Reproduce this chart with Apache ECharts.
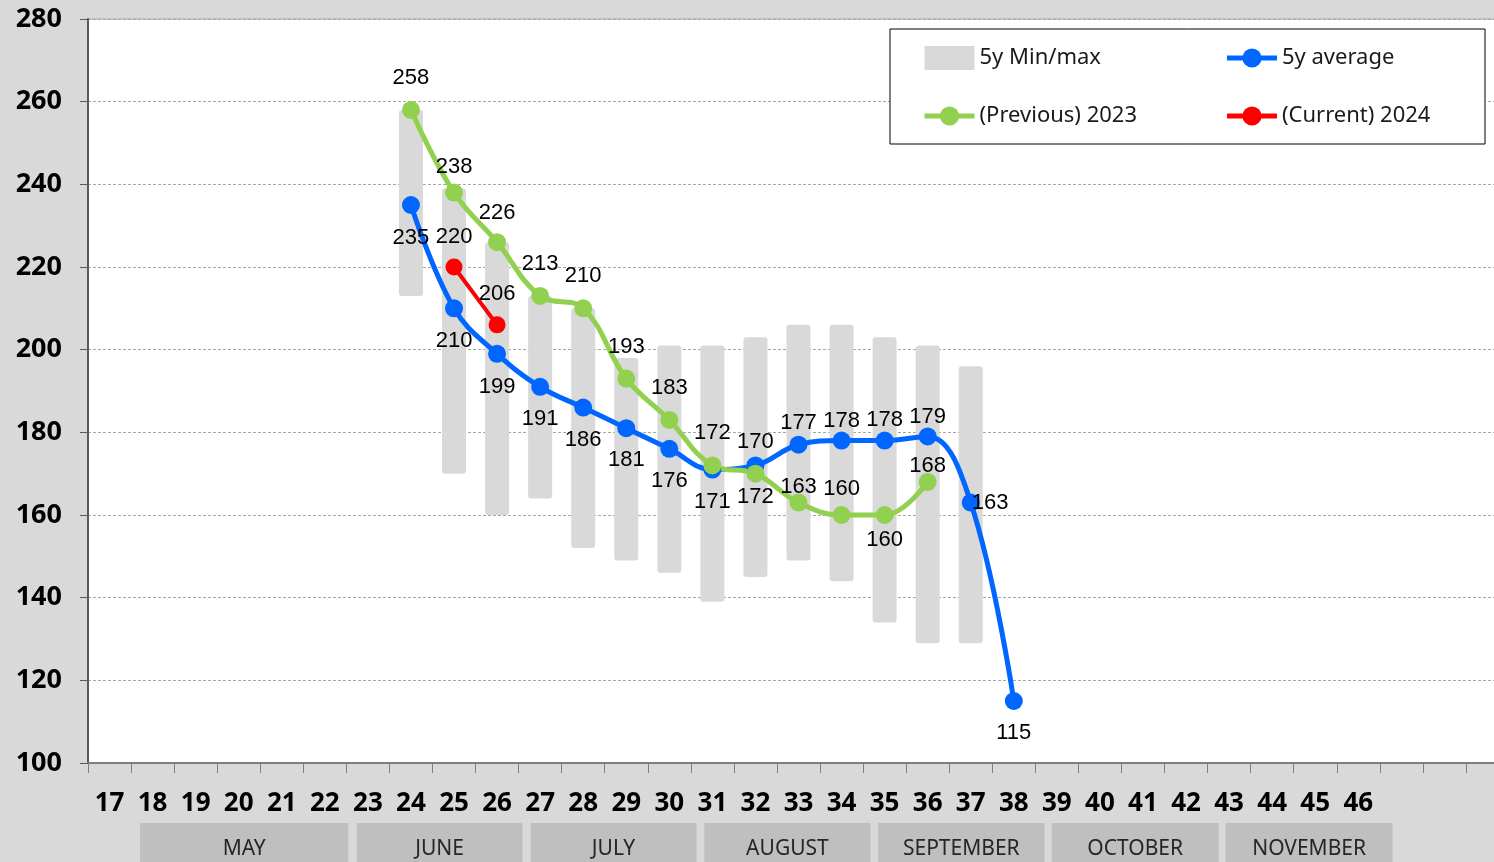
<html>
<head>
    <meta charset="utf-8">
</head>
<body style="margin:0;background:#d9d9d9">
    <script src="https://cdn.jsdelivr.net/npm/echarts@6/dist/echarts.min.js"></script>

    <div id="main" style="width: 1494px;height: 862px"></div>

    <script>
// week numbers on the x axis
var weeks = ['17','18','19','20','21','22','23','24','25','26','27','28','29','30','31',
             '32','33','34','35','36','37','38','39','40','41','42','43','44','45','46'];
// unlabelled slots after week 46 (axis runs on past the right edge)
var weekPad = ['', ' ', '  '];

// 5y min/max, weeks 24..37
var rangeStart = '24';
var rangeMin = [213, 170, 160, 164, 152, 149, 146, 139, 145, 149, 144, 134, 129, 129];
var rangeMax = [258, 239, 226, 213, 210, 198, 201, 201, 203, 206, 206, 203, 201, 196];

// 5y average, weeks 24..38
var avgStart = '24';
var avgValues = [235, 210, 199, 191, 186, 181, 176, 171, 172, 177, 178, 178, 179, 163, 115];

// (Previous) 2023, weeks 24..36
var prevStart = '24';
var prevValues = [258, 238, 226, 213, 210, 193, 183, 172, 170, 163, 160, 160, 168];

// (Current) 2024, weeks 25..26
var currStart = '25';
var currValues = [220, 206];

// month strip under the axis
var months = ['MAY', 'JUNE', 'JULY', 'AUGUST', 'SEPTEMBER', 'OCTOBER', 'NOVEMBER'];
var monthFirst = ['18', '23', '27', '31', '35', '39', '43'];
var monthLast = ['22', '26', '30', '34', '38', '42', '46'];

// label placement per point [position, distance]
var avgLabelPos = [['bottom',13],['bottom',13],['bottom',13],['bottom',12],['bottom',12],['bottom',12],
    ['bottom',12],['bottom',12],['bottom',12],['top',2],['top',0],['top',1],['top',0],['right',-8],['bottom',12]];
var prevLabelPos = [['top',12],['top',6],['top',9],['top',12],['top',12],['top',12],['top',12],
    ['top',12],['top',12],['top',-4],['top',6],['bottom',5],['top',-4]];
var currLabelPos = [['top',11],['top',11]];

function place(start, values) {
    var s = weeks.indexOf(start);
    return weeks.map(function (w, i) {
        var k = i - s;
        return (k >= 0 && k < values.length) ? values[k] : null;
    });
}

function withLabels(start, values, pos) {
    var s = weeks.indexOf(start);
    return weeks.map(function (w, i) {
        var k = i - s;
        if (k < 0 || k >= values.length) return null;
        return { value: values[k], label: { position: pos[k][0], distance: pos[k][1] } };
    });
}

var minFull = place(rangeStart, rangeMin);
var spanFull = place(rangeStart, rangeMax.map(function (v, i) { return v - rangeMin[i]; }));

var myChart = echarts.init(document.getElementById('main'));

var labelFont = {
    show: true,
    fontFamily: 'Liberation Sans',
    fontSize: 22,
    color: '#000'
};

var option = {
    backgroundColor: '#d9d9d9',
    animation: false,
    grid: {
        left: 88,
        top: 19,
        right: -15,
        bottom: 99,
        outerBoundsMode: 'none',
        containLabel: false,
        show: true,
        backgroundColor: '#fff',
        borderColor: '#a6a6a6',
        borderWidth: 1
    },
    legend: {
        left: 890,
        top: 29,
        width: 530,
        padding: [4, 53, 3, 32],
        itemGap: 8,
        itemWidth: 50,
        itemHeight: 24,
        backgroundColor: '#fff',
        borderColor: '#000',
        borderWidth: 1,
        borderRadius: 0,
        textStyle: {
            fontFamily: 'Noto Sans',
            fontSize: 22,
            color: '#1a1a1a',
            lineHeight: 50
        },
        data: [
            { name: '5y Min/max', icon: 'rect', textStyle: { width: 237 } },
            { name: '5y average', lineStyle: { width: 5 }, textStyle: { width: 150 } },
            { name: '(Previous) 2023', lineStyle: { width: 5 }, textStyle: { width: 237 } },
            { name: '(Current) 2024', lineStyle: { width: 5 }, textStyle: { width: 150 } }
        ]
    },
    xAxis: {
        type: 'category',
        data: weeks.concat(weekPad),
        boundaryGap: true,
        axisLine: { lineStyle: { color: '#7f7f7f', width: 2 } },
        axisTick: { show: true, interval: 0, length: 10, lineStyle: { color: '#7f7f7f' } },
        axisLabel: {
            interval: 0,
            margin: 28,
            fontFamily: 'Noto Sans',
            fontWeight: 'bold',
            fontSize: 26,
            color: '#000'
        },
        splitLine: { show: false }
    },
    yAxis: {
        type: 'value',
        min: 100,
        max: 280,
        interval: 20,
        axisLine: { show: true, lineStyle: { color: '#595959', width: 2 } },
        axisTick: { show: true, length: 8, lineStyle: { color: '#595959' } },
        axisLabel: {
            margin: 26,
            fontFamily: 'Noto Sans',
            fontWeight: 'bold',
            fontSize: 27,
            color: '#000'
        },
        splitLine: { lineStyle: { color: '#a6a6a6', type: [3, 2], width: 1 } }
    },
    series: [
        {
            name: 'base',
            type: 'bar',
            stack: 'mm',
            barWidth: 24,
            itemStyle: { color: 'transparent' },
            data: minFull
        },
        {
            name: '5y Min/max',
            type: 'bar',
            stack: 'mm',
            barWidth: 24,
            itemStyle: { color: '#d9d9d9', borderRadius: 3 },
            data: spanFull
        },
        {
            name: '5y average',
            type: 'line',
            smooth: 0.4,
            symbol: 'circle',
            symbolSize: 18,
            lineStyle: { color: '#0066ff', width: 5 },
            itemStyle: { color: '#0066ff' },
            label: labelFont,
            data: withLabels(avgStart, avgValues, avgLabelPos)
        },
        {
            name: '(Previous) 2023',
            type: 'line',
            smooth: 0.4,
            symbol: 'circle',
            symbolSize: 18,
            lineStyle: { color: '#92d050', width: 5 },
            itemStyle: { color: '#92d050' },
            label: labelFont,
            data: withLabels(prevStart, prevValues, prevLabelPos)
        },
        {
            name: '(Current) 2024',
            type: 'line',
            smooth: 0.4,
            symbol: 'circle',
            symbolSize: 17,
            lineStyle: { color: '#ff0000', width: 4 },
            itemStyle: { color: '#ff0000' },
            label: labelFont,
            data: withLabels(currStart, currValues, currLabelPos)
        }
    ]
};

myChart.setOption(option);

// month boxes under the week labels, placed from the category axis
// (the boxes drift slightly right of the week boundaries, as in the original sheet)
var band = myChart.convertToPixel({ xAxisIndex: 0 }, weeks[1]) - myChart.convertToPixel({ xAxisIndex: 0 }, weeks[0]);
var axisY = myChart.convertToPixel({ yAxisIndex: 0 }, 100);
var graphics = [];
months.forEach(function (m, i) {
    var x0 = myChart.convertToPixel({ xAxisIndex: 0 }, monthFirst[i]) - band / 2 + 9 + 1.5 * i;
    var x1 = myChart.convertToPixel({ xAxisIndex: 0 }, monthLast[i]) + band / 2 + 2 + 1.8 * i;
    graphics.push({
        type: 'rect',
        shape: { x: x0, y: axisY + 60, width: x1 - x0, height: 50 },
        style: { fill: '#bfbfbf' },
        silent: true
    });
    graphics.push({
        type: 'text',
        x: (x0 + x1) / 2,
        y: axisY + 86,
        style: {
            text: m,
            fill: '#262626',
            font: '21px "Noto Sans"',
            align: 'center',
            verticalAlign: 'middle'
        },
        silent: true
    });
});
myChart.setOption({ graphic: graphics });
    </script>
</body>
</html>
